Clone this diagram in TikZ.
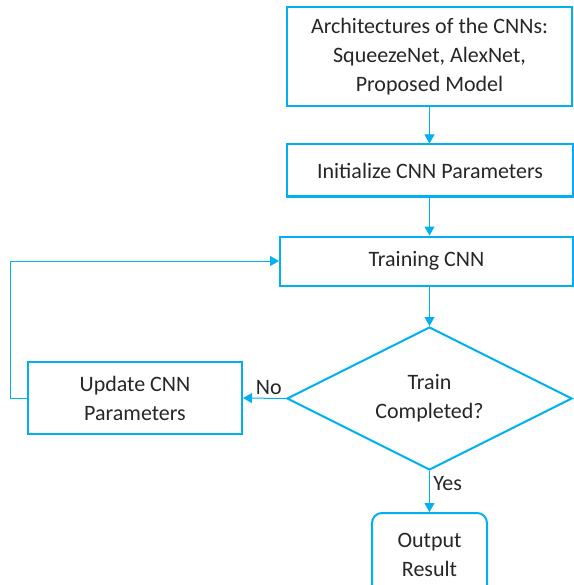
\documentclass[tikz,border=0pt]{standalone}
\usepackage{fontspec}
\setmainfont{Carlito}
\usetikzlibrary{shapes.geometric,arrows.meta}
\definecolor{cy}{HTML}{00B0F0}
\begin{document}
\begin{tikzpicture}[x=1pt,y=-1pt,
  box/.style={draw=cy,line width=2pt,align=center,inner sep=0pt,font=\fontsize{22}{29}\selectfont,text=black!85},
  conn/.style={draw=cy,line width=1pt,-{Triangle[length=9pt,width=10pt]}},
  lbl/.style={font=\fontsize{22}{26}\selectfont,text=black!85}]
\useasboundingbox (0,0) rectangle (573,585);
\node[box,minimum width=285pt,minimum height=99pt] (arch) at (429.5,56.5) {Architectures of the CNNs:\\SqueezeNet, AlexNet,\\Proposed Model};
\node[box,minimum width=286pt,minimum height=52pt] (init) at (430,170.5) {Initialize CNN Parameters};
\node[box,minimum width=293pt,minimum height=49pt] (train) at (426.5,261) {Training CNN};
\node[box,diamond,minimum width=285pt,minimum height=143pt,aspect=2] (dec) at (429.5,398.5) {Train\\Completed?};
\node[box,minimum width=214pt,minimum height=72pt] (upd) at (135,398) {Update CNN\\Parameters};
\node[box,rounded corners=10pt,minimum width=115pt,minimum height=84pt,anchor=north] (out) at (429.5,512) {Output\\Result};
\draw[conn] (arch.south) -- (arch.south |- init.north);
\draw[conn] (arch.south |- init.south) -- (arch.south |- train.north);
\draw[conn] (arch.south |- train.south) -- (dec.north);
\draw[conn] (dec.south) -- node[lbl,right,pos=0.3] {Yes} (out.north);
\draw[conn] (dec.west) -- node[lbl,above,pos=0.4] {No} (upd.east);
\coordinate (c1) at (10,398);
\coordinate (c2) at (10,261);
\draw[conn] (upd.west) -- (c1) -- (c2) -- (train.west);
\end{tikzpicture}
\end{document}
